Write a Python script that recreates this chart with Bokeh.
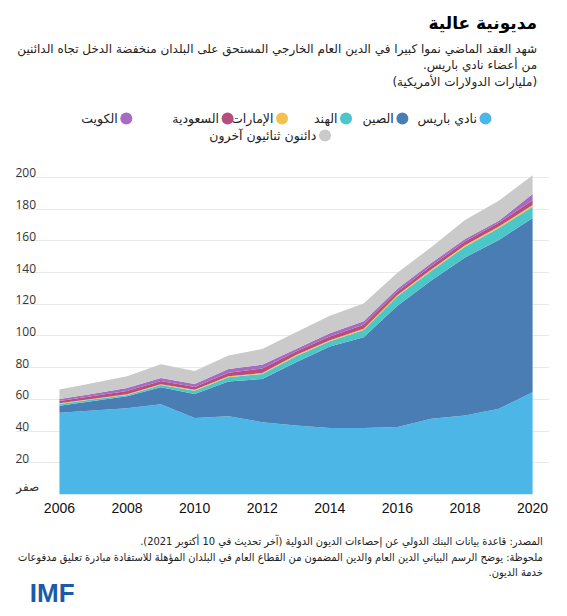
from bokeh.plotting import figure
from bokeh.layouts import column
from bokeh.models import ColumnDataSource, Range1d, LabelSet
from bokeh.core.properties import value
from bokeh.embed import file_html
from bokeh.resources import INLINE

# ---------------- data (billions of US dollars) ----------------
years = list(range(2006, 2021))
paris_club = [51.5, 53.0, 54.4, 56.9, 48.3, 49.3, 45.6, 43.5, 42.0, 42.0, 42.5, 47.7, 49.8, 54.0, 64.5]
china = [4.5, 6.0, 7.6, 10.7, 15.1, 21.9, 27.3, 39.9, 51.3, 57.1, 76.5, 87.3, 99.7, 106.5, 109.8]
india = [1.1, 1.0, 0.8, 1.5, 2.1, 2.7, 3.1, 3.8, 3.3, 4.7, 6.0, 6.0, 6.8, 7.5, 7.2]
uae = [0.4, 0.4, 0.4, 0.5, 0.5, 0.6, 0.6, 0.7, 0.7, 0.8, 0.8, 0.9, 0.9, 1.0, 1.0]
saudi = [1.5, 1.7, 2.0, 2.0, 1.8, 2.3, 2.8, 2.3, 2.3, 2.4, 2.2, 2.2, 2.3, 2.3, 3.0]
kuwait = [1.3, 1.4, 2.0, 1.9, 1.9, 2.4, 2.5, 1.6, 2.1, 2.2, 1.8, 1.9, 1.6, 1.3, 4.0]
other_bilateral = [5.9, 6.8, 7.3, 8.6, 8.2, 8.4, 9.9, 10.5, 11.1, 11.3, 10.0, 10.0, 12.0, 12.6, 11.9]

series_keys = ["paris", "china", "india", "uae", "saudi", "kuwait", "others"]
series_names = ["نادي باريس", "الصين", "الهند", "الإمارات", "السعودية", "الكويت", "دائنون ثنائيون آخرون"]
series_colors = ["#4cb7e6", "#4a7db3", "#4cc7c9", "#f4c24c", "#b84c7c", "#a66cc4", "#c9cac9"]

x_ticks = [2006, 2008, 2010, 2012, 2014, 2016, 2018, 2020]
y_ticks = [0, 20, 40, 60, 80, 100, 120, 140, 160, 180, 200]
y_tick_labels = ["صفر", "20", "40", "60", "80", "100", "120", "140", "160", "180", "200"]

title_text = "مديونية عالية"
subtitle_lines = [
    "شهد العقد الماضي نموا كبيرا في الدين العام الخارجي المستحق على البلدان منخفضة الدخل تجاه الدائنين",
    "من أعضاء نادي باريس.\u200f",
    "\u200f(مليارات الدولارات الأمريكية)\u200f",
]
footer_lines = [
    "المصدر: قاعدة بيانات البنك الدولي عن إحصاءات الديون الدولية (آخر تحديث في 10 أكتوبر 2021).\u200f",
    "ملحوظة: يوضح الرسم البياني الدين العام والدين المضمون من القطاع العام في البلدان المؤهلة للاستفادة مبادرة تعليق مدفوعات",
    "خدمة الديون.\u200f",
]
logo_text = "IMF"

AR_FONT = "DejaVu Sans"
FOOT_FONT = "DejaVu Sans Condensed"
W = 559
HEADER_H, CHART_H, FOOTER_H = 161, 364, 83


def text_panel(height):
    f = figure(width=W, height=height, output_backend="svg", toolbar_location=None,
               x_range=Range1d(0, W), y_range=Range1d(height, 0),
               min_border=0, min_border_left=0, min_border_right=0,
               min_border_top=0, min_border_bottom=0)
    f.axis.visible = False
    f.grid.visible = False
    f.outline_line_color = None
    return f


def put_text(f, txt, x, y, size, color="#222222", bold=False, align="right", font=AR_FONT):
    f.text(x=[x], y=[y], text=[txt], text_align=align, text_baseline="middle",
           text_font=value(font), text_font_size=size, text_color=color,
           text_font_style="bold" if bold else "normal")


# ---------------- header ----------------
header = text_panel(HEADER_H)
put_text(header, title_text, 546, 22, "17px", color="#000000", bold=True)
for i, line in enumerate(subtitle_lines):
    put_text(header, line, 546, 48 + i * 16.7, "12px")

legend_pos = [(492, 118), (405, 118), (346, 118), (279, 118), (222, 118), (116, 118), (324, 135)]
for name, col, (cx, cy) in zip(series_names, series_colors, legend_pos):
    header.scatter(x=[cx], y=[cy], size=12, color=col, line_color=None)
    put_text(header, name, cx - 9, cy, "12.5px")

# ---------------- chart ----------------
p = figure(width=W, height=CHART_H, output_backend="svg", toolbar_location=None,
           x_range=Range1d(2004.70, 2020.50), y_range=Range1d(0, 210),
           min_border_left=15, min_border_right=10, min_border_top=0, min_border_bottom=31)
p.outline_line_color = None

src = ColumnDataSource(dict(year=years, paris=paris_club, china=china, india=india, uae=uae,
                            saudi=saudi, kuwait=kuwait, others=other_bilateral))
p.varea_stack(stackers=series_keys, x="year", color=series_colors, source=src)

p.yaxis.visible = False
p.yaxis.ticker = y_ticks
p.ygrid.grid_line_color = "#e9e9e9"
p.ygrid.grid_line_width = 1.2
p.ygrid.level = "underlay"
p.xgrid.visible = False

p.xaxis.ticker = x_ticks
p.xaxis.axis_line_color = None
p.xaxis.major_tick_line_color = None
p.xaxis.minor_tick_line_color = None
p.xaxis.major_label_standoff = 2
p.xaxis.major_label_text_font = "Liberation Sans"
p.xaxis.major_label_text_font_size = "14px"
p.xaxis.major_label_text_color = "#111111"

ysrc = ColumnDataSource(dict(y=y_ticks, text=y_tick_labels))
p.add_layout(LabelSet(x=0, y="y", text="text", source=ysrc, x_units="screen", y_units="data",
                      text_align="left", text_baseline="bottom", text_font=value("Open Sans"),
                      text_font_size="12px", text_color="#333333"))

# ---------------- footer ----------------
footer = text_panel(FOOTER_H)
for i, line in enumerate(footer_lines):
    put_text(footer, line, 552, 16 + i * 15.5, "11px", font=FOOT_FONT)
put_text(footer, logo_text, 15, 67, "26px", color="#1c5ba6", bold=True, align="left",
         font="Liberation Sans")

layout = column(header, p, footer, spacing=0)
open("out.html", "w").write(file_html(layout, INLINE))
